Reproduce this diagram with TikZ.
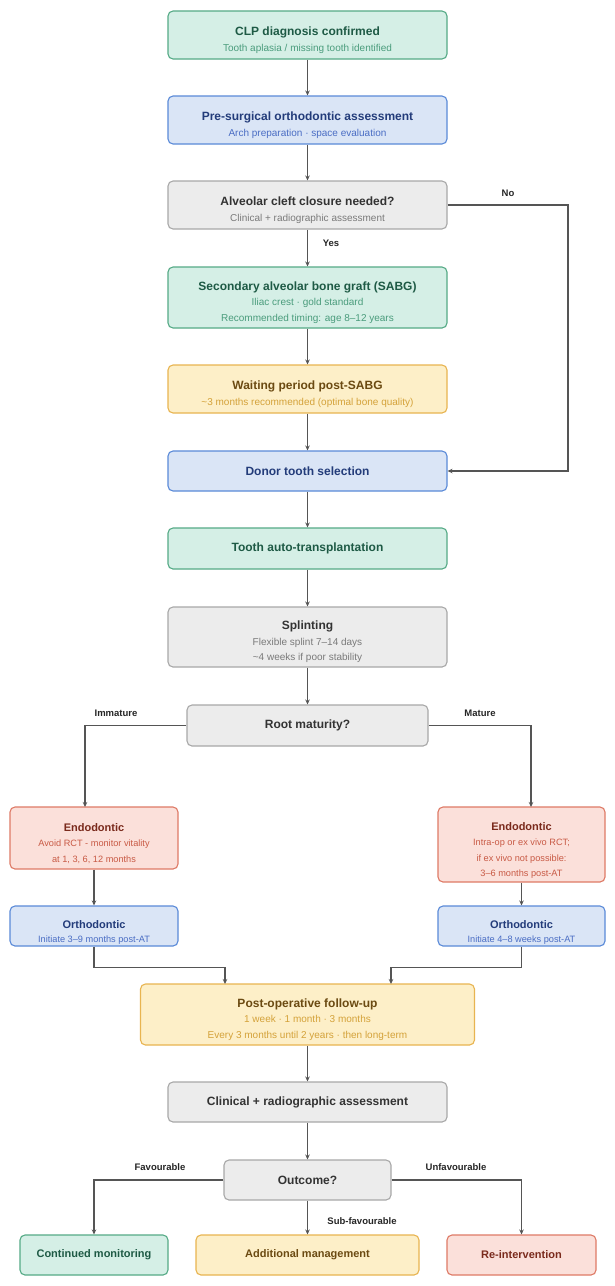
\documentclass[tikz,border=0pt]{standalone}
\usepackage{fontspec}
\setmainfont{Liberation Sans}
\usetikzlibrary{arrows.meta}
\definecolor{gfill}{HTML}{D5EFE6}\definecolor{gline}{HTML}{55AA86}\definecolor{gtitle}{HTML}{1E5A45}\definecolor{gsub}{HTML}{4A9C7C}
\definecolor{bfill}{HTML}{DAE5F6}\definecolor{bline}{HTML}{5A8AD8}\definecolor{btitle}{HTML}{233C7A}\definecolor{bsub}{HTML}{4A6DC4}
\definecolor{kfill}{HTML}{ECECEC}\definecolor{kline}{HTML}{A8A8A8}\definecolor{ktitle}{HTML}{333333}\definecolor{ksub}{HTML}{7A7A7A}
\definecolor{yfill}{HTML}{FDEFC8}\definecolor{yline}{HTML}{E8B450}\definecolor{ytitle}{HTML}{6B4A12}\definecolor{ysub}{HTML}{D4A23A}
\definecolor{rfill}{HTML}{FBE0DA}\definecolor{rline}{HTML}{DE7A66}\definecolor{rtitle}{HTML}{7A2A1C}\definecolor{rsub}{HTML}{C85A45}
\definecolor{arrc}{HTML}{555555}
% title with strut (multi-line boxes) and without (single-line boxes)
\newcommand{\ttl}[3][19pt]{{\fontsize{12}{14}\selectfont\bfseries\color{#2}\rule{0pt}{#1}#3}}
\newcommand{\stl}[2]{{\fontsize{12}{14}\selectfont\bfseries\color{#1}#2}}
\newcommand{\ttlsm}[3][19pt]{{\fontsize{11}{13}\selectfont\bfseries\color{#2}\rule{0pt}{#1}#3}}
\newcommand{\stlsm}[2]{{\fontsize{11}{13}\selectfont\bfseries\color{#1}#2}}
\tikzset{
  box/.style={draw, rounded corners=5pt, line width=1.1pt, align=center, inner sep=0pt,
    font=\fontsize{10}{15.5}\selectfont},
  smallbox/.style={font=\fontsize{9.2}{15.5}\selectfont},
  gbox/.style={box, fill=gfill, draw=gline, text=gsub},
  bbox/.style={box, fill=bfill, draw=bline, text=bsub},
  kbox/.style={box, fill=kfill, draw=kline, text=ksub},
  ybox/.style={box, fill=yfill, draw=yline, text=ysub},
  rbox/.style={box, fill=rfill, draw=rline, text=rsub},
  sz/.style 2 args={minimum width=#1pt, minimum height=#2pt},
  arr/.style={draw=arrc, line width=1.2pt, -{Stealth[length=5pt,width=4.5pt]}},
  lbl/.style={font=\fontsize{9.5}{11}\selectfont\bfseries, text=black!85}
}
\begin{document}
\begin{tikzpicture}[x=1pt,y=-1pt]
\useasboundingbox[fill=white] (0,0) rectangle (615,1286);
\node[gbox, sz={279}{48}] (clp) at (307.5,35) {\ttl{gtitle}{CLP diagnosis confirmed}\\Tooth aplasia / missing tooth identified};
\node[bbox, sz={279}{48}] (pre) at (307.5,120) {\ttl{btitle}{Pre-surgical orthodontic assessment}\\Arch preparation · space evaluation};
\node[kbox, sz={279}{48}] (alv) at (307.5,205) {\ttl{ktitle}{Alveolar cleft closure needed?}\\Clinical + radiographic assessment};
\node[gbox, sz={279}{61}] (sabg) at (307.5,297.5) {\ttl{gtitle}{Secondary alveolar bone graft (SABG)}\\Iliac crest · gold standard\\Recommended timing: age 8–12 years};
\node[ybox, sz={279}{48}] (wait) at (307.5,389) {\ttl{ytitle}{Waiting period post-SABG}\\\textasciitilde 3 months recommended (optimal bone quality)};
\node[bbox, sz={279}{40}] (donor) at (307.5,471) {\stl{btitle}{Donor tooth selection}};
\node[gbox, sz={279}{41}] (auto) at (307.5,548.5) {\stl{gtitle}{Tooth auto-transplantation}};
\node[kbox, sz={279}{60}] (splint) at (307.5,637) {\ttl{ktitle}{Splinting}\\Flexible splint 7–14 days\\\textasciitilde 4 weeks if poor stability};
\node[kbox, sz={241}{41}] (root) at (307.5,725.5) {\stl{ktitle}{Root maturity?}};
\node[rbox, smallbox, sz={168}{62}] (endoL) at (94,838) {\ttlsm{rtitle}{Endodontic}\\Avoid RCT - monitor vitality\\at 1, 3, 6, 12 months};
\node[rbox, smallbox, sz={167}{75}] (endoR) at (521.5,844.5) {\ttlsm[20pt]{rtitle}{Endodontic}\\Intra-op or ex vivo RCT;\\if ex vivo not possible:\\3–6 months post-AT};
\node[bbox, smallbox, sz={168}{40}] (orthoL) at (94,926) {\ttlsm[21pt]{btitle}{Orthodontic}\\[-1.5pt]Initiate 3–9 months post-AT};
\node[bbox, smallbox, sz={167}{40}] (orthoR) at (521.5,926) {\ttlsm[21pt]{btitle}{Orthodontic}\\[-1.5pt]Initiate 4–8 weeks post-AT};
\node[ybox, sz={334}{61}] (post) at (307.5,1014.5) {\ttl{ytitle}{Post-operative follow-up}\\1 week · 1 month · 3 months\\Every 3 months until 2 years · then long-term};
\node[kbox, sz={279}{40}] (clin) at (307.5,1102) {\stl{ktitle}{Clinical + radiographic assessment}};
\node[kbox, sz={167}{40}] (out) at (307.5,1180) {\stl{ktitle}{Outcome?}};
\node[gbox, sz={148}{40}] (cont) at (94,1255) {\stlsm{gtitle}{Continued monitoring}};
\node[ybox, sz={223}{40}] (addm) at (307.5,1255) {\stlsm{ytitle}{Additional management}};
\node[rbox, sz={149}{40}] (reint) at (521.5,1255) {\stlsm{rtitle}{Re-intervention}};
% coordinates
\coordinate (noR) at (568,0);
\coordinate (rl) at (85,807);
\coordinate (rr) at (531,807);
\coordinate (pl) at (225,984);
\coordinate (pr) at (391,984);
% connectors
\draw[arr] (clp) -- (pre);
\draw[arr] (pre) -- (alv);
\draw[arr] (alv) -- (sabg);
\draw[arr] (sabg) -- (wait);
\draw[arr] (wait) -- (donor);
\draw[arr] (alv.east) -- (alv.east -| noR) |- (donor.east);
\draw[arr] (donor) -- (auto);
\draw[arr] (auto) -- (splint);
\draw[arr] (splint) -- (root);
\draw[arr] (root.west) -| (rl);
\draw[arr] (root.east) -| (rr);
\draw[arr] (endoL) -- (orthoL);
\draw[arr] (endoR) -- (orthoR);
\draw[arr] (orthoL.south) -- ++(0,21) -| (pl);
\draw[arr] (orthoR.south) -- ++(0,21) -| (pr);
\draw[arr] (post) -- (clin);
\draw[arr] (clin) -- (out);
\draw[arr] (out.west) -| (cont.north);
\draw[arr] (out) -- (addm);
\draw[arr] (out.east) -| (reint.north);
% labels
\node[lbl] (lno) at (508,193) {No};
\node[lbl] (lyes) at (331,243) {Yes};
\node[lbl] (limm) at (116,713) {Immature};
\node[lbl] (lmat) at (480,713) {Mature};
\node[lbl] (lfav) at (160,1167) {Favourable};
\node[lbl] (lunf) at (456,1167) {Unfavourable};
\node[lbl] (lsub) at (362,1221) {Sub-favourable};
\end{tikzpicture}
\end{document}
